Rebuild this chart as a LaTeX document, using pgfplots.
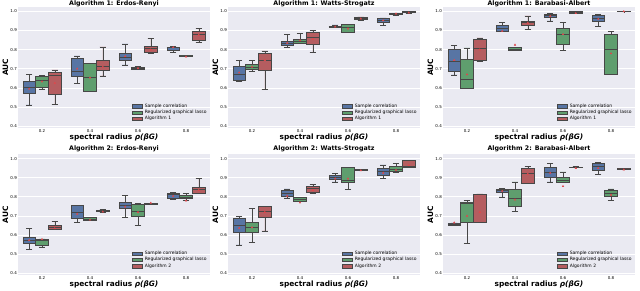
\documentclass[border=0pt]{standalone}
\usepackage{fontspec}
\setmainfont{DejaVu Sans}
\usepackage{pgfplots}
\pgfplotsset{compat=1.18}
\usepgfplotslibrary{statistics}
\definecolor{bgc}{HTML}{EAEAF2}
\definecolor{cb}{HTML}{5875A4}
\definecolor{cg}{HTML}{5F9E6E}
\definecolor{cr}{HTML}{B55D60}
\definecolor{edge}{HTML}{474747}
\definecolor{meanc}{HTML}{E0474C}
% color, position, lower whisker, lower quartile, median, upper quartile, upper whisker, mean
\newcommand{\bx}[8]{%
  \addplot[forget plot, fill=#1, draw=edge, line width=0.6pt,
    boxplot prepared={draw position=#2, lower whisker=#3, lower quartile=#4,
      median=#5, upper quartile=#6, upper whisker=#7,
      box extend=0.26, whisker extend=0.13}] coordinates {};
  \addplot[forget plot, only marks, mark=triangle*, mark size=0.9pt, color=meanc] coordinates {(#2,#8)};%
}
\pgfplotsset{panel/.style={
  scale only axis, width=192pt, height=121pt,
  xmin=-0.5, xmax=3.5, ymin=0.39, ymax=1.023,
  xtick={0,1,2,3}, xticklabels={0.2,0.4,0.6,0.8},
  ytick={0.4,0.5,0.6,0.7,0.8,0.9,1.0},
  yticklabel style={/pgf/number format/.cd,fixed,fixed zerofill,precision=1,assume math mode=true},
  axis background/.style={fill=bgc},
  axis line style={draw=none},
  major tick length=0pt,
  ymajorgrids, grid style={white, line width=0.7pt},
  tick label style={font=\fontsize{4}{5}\selectfont, inner sep=1pt},
  xlabel={\textbf{spectral radius \textit{ρ(βG)}}},
  ylabel={\textbf{AUC}},
  label style={font=\fontsize{7.4}{8}\selectfont},
  xlabel style={inner sep=0.5pt},
  ylabel style={inner sep=1pt},
  every axis title/.style={font=\bfseries\fontsize{6.3}{7}\selectfont, at={(0.5,1)}, anchor=base, yshift=2.5pt},
  boxplot/draw direction=y,
  boxplot/every median/.style={draw=edge, line width=0.6pt},
  boxplot/every whisker/.style={draw=edge, line width=0.6pt},
  legend style={at={(0.985,0.05)}, anchor=south east, draw=none, fill=none,
    font=\fontsize{4.5}{5}\selectfont, row sep=0.6pt, inner sep=0pt,
    nodes={inner sep=0.4pt}, cells={anchor=west}},
  legend image code/.code={\draw[##1] (0pt,-1.7pt) rectangle (10pt,1.7pt); \path (11.8pt,0pt);},
}}
\newcommand{\leg}[1]{%
  \addlegendimage{fill=cb, draw=edge, line width=0.4pt}
  \addlegendimage{fill=cg, draw=edge, line width=0.4pt}
  \addlegendimage{fill=cr, draw=edge, line width=0.4pt}
  \legend{Sample correlation, Regularized graphical lasso, #1}%
}
\begin{document}
\begin{tikzpicture}
\path[use as bounding box] (0,0) rectangle (640pt,290pt);
% ---------- Top row ----------
\begin{axis}[panel, at={(18pt,162pt)}, anchor=south west, title={Algorithm 1: Erdos-Renyi}, title style={yshift=-0.8pt}]
\leg{Algorithm 1}
\bx{cb}{-0.267}{0.511}{0.569}{0.602}{0.635}{0.671}{0.595}
\bx{cg}{0}{0.595}{0.602}{0.638}{0.663}{0.665}{0.633}
\bx{cr}{0.267}{0.513}{0.567}{0.664}{0.680}{0.694}{0.625}
\bx{cb}{0.733}{0.623}{0.661}{0.687}{0.753}{0.767}{0.700}
\bx{cg}{1}{0.583}{0.583}{0.654}{0.730}{0.730}{0.653}
\bx{cr}{1.267}{0.663}{0.692}{0.713}{0.744}{0.814}{0.710}
\bx{cb}{1.733}{0.720}{0.744}{0.762}{0.783}{0.830}{0.765}
\bx{cg}{2}{0.696}{0.698}{0.703}{0.709}{0.711}{0.703}
\bx{cr}{2.267}{0.783}{0.786}{0.805}{0.819}{0.857}{0.800}
\bx{cb}{2.733}{0.784}{0.797}{0.812}{0.814}{0.817}{0.812}
\bx{cg}{3}{0.765}{0.766}{0.767}{0.768}{0.769}{0.763}
\bx{cr}{3.267}{0.837}{0.847}{0.882}{0.894}{0.913}{0.877}
\end{axis}
\begin{axis}[panel, at={(228pt,162pt)}, anchor=south west, title={Algorithm 1: Watts-Strogatz}, title style={yshift=-0.8pt}]
\leg{Algorithm 1}
\bx{cb}{-0.267}{0.635}{0.638}{0.671}{0.715}{0.744}{0.680}
\bx{cg}{0}{0.685}{0.696}{0.708}{0.722}{0.742}{0.710}
\bx{cr}{0.267}{0.593}{0.694}{0.744}{0.779}{0.793}{0.745}
\bx{cb}{0.733}{0.810}{0.823}{0.835}{0.845}{0.878}{0.835}
\bx{cg}{1}{0.831}{0.831}{0.842}{0.854}{0.883}{0.848}
\bx{cr}{1.267}{0.784}{0.830}{0.863}{0.889}{0.900}{0.855}
\bx{cb}{1.733}{0.915}{0.918}{0.921}{0.923}{0.929}{0.920}
\bx{cg}{2}{0.892}{0.892}{0.918}{0.930}{0.932}{0.910}
\bx{cr}{2.267}{0.955}{0.957}{0.963}{0.969}{0.971}{0.962}
\bx{cb}{2.733}{0.927}{0.944}{0.955}{0.963}{0.966}{0.953}
\bx{cg}{3}{0.977}{0.986}{0.988}{0.989}{0.990}{0.988}
\bx{cr}{3.267}{0.990}{0.993}{0.996}{0.998}{0.999}{0.993}
\end{axis}
\begin{axis}[panel, at={(443pt,162pt)}, anchor=south west, title={Algorithm 1: Barabasi-Albert}, title style={yshift=-0.8pt}]
\leg{Algorithm 1}
\bx{cb}{-0.267}{0.668}{0.685}{0.741}{0.802}{0.821}{0.745}
\bx{cg}{0}{0.597}{0.597}{0.647}{0.751}{0.809}{0.670}
\bx{cr}{0.267}{0.741}{0.746}{0.809}{0.852}{0.861}{0.800}
\bx{cb}{0.733}{0.897}{0.897}{0.912}{0.927}{0.941}{0.897}
\bx{cg}{1}{0.797}{0.797}{0.803}{0.810}{0.810}{0.825}
\bx{cr}{1.267}{0.904}{0.927}{0.942}{0.950}{0.976}{0.940}
\bx{cb}{1.733}{0.950}{0.969}{0.979}{0.986}{0.991}{0.975}
\bx{cg}{2}{0.795}{0.828}{0.880}{0.911}{0.941}{0.880}
\bx{cr}{2.267}{0.988}{0.990}{0.994}{0.998}{1.000}{0.990}
\bx{cb}{2.733}{0.920}{0.946}{0.966}{0.977}{0.986}{0.960}
\bx{cg}{3}{0.671}{0.671}{0.803}{0.878}{0.896}{0.780}
\bx{cr}{3.267}{0.998}{0.999}{1.000}{1.000}{1.000}{1.000}
\end{axis}
% ---------- Bottom row ----------
\begin{axis}[panel, at={(18pt,14.8pt)}, anchor=south west, title={Algorithm 2: Erdos-Renyi}, title style={yshift=1.2pt}]
\leg{Algorithm 2}
\bx{cb}{-0.267}{0.526}{0.556}{0.575}{0.589}{0.636}{0.573}
\bx{cg}{0}{0.538}{0.547}{0.570}{0.580}{0.580}{0.578}
\bx{cr}{0.267}{0.629}{0.629}{0.640}{0.649}{0.670}{0.635}
\bx{cb}{0.733}{0.668}{0.687}{0.718}{0.757}{0.757}{0.710}
\bx{cg}{1}{0.677}{0.677}{0.685}{0.694}{0.694}{0.680}
\bx{cr}{1.267}{0.720}{0.724}{0.728}{0.732}{0.736}{0.722}
\bx{cb}{1.733}{0.694}{0.740}{0.758}{0.773}{0.806}{0.748}
\bx{cg}{2}{0.652}{0.698}{0.726}{0.762}{0.767}{0.720}
\bx{cr}{2.267}{0.762}{0.763}{0.764}{0.765}{0.766}{0.768}
\bx{cb}{2.733}{0.785}{0.794}{0.811}{0.820}{0.825}{0.804}
\bx{cg}{3}{0.781}{0.790}{0.798}{0.808}{0.820}{0.780}
\bx{cr}{3.267}{0.820}{0.820}{0.837}{0.851}{0.895}{0.835}
\end{axis}
\begin{axis}[panel, at={(228pt,14.8pt)}, anchor=south west, title={Algorithm 2: Watts-Strogatz}, title style={yshift=1.2pt}]
\leg{Algorithm 2}
\bx{cb}{-0.267}{0.549}{0.617}{0.652}{0.690}{0.698}{0.637}
\bx{cg}{0}{0.563}{0.615}{0.642}{0.666}{0.738}{0.640}
\bx{cr}{0.267}{0.622}{0.694}{0.724}{0.750}{0.752}{0.720}
\bx{cb}{0.733}{0.794}{0.804}{0.820}{0.834}{0.841}{0.805}
\bx{cg}{1}{0.778}{0.778}{0.786}{0.795}{0.798}{0.770}
\bx{cr}{1.267}{0.820}{0.823}{0.843}{0.855}{0.867}{0.835}
\bx{cb}{1.733}{0.878}{0.892}{0.902}{0.911}{0.921}{0.895}
\bx{cg}{2}{0.837}{0.878}{0.885}{0.953}{0.956}{0.895}
\bx{cr}{2.267}{0.940}{0.941}{0.942}{0.943}{0.944}{0.938}
\bx{cb}{2.733}{0.895}{0.914}{0.931}{0.948}{0.967}{0.925}
\bx{cg}{3}{0.930}{0.935}{0.946}{0.958}{0.976}{0.940}
\bx{cr}{3.267}{0.956}{0.956}{0.960}{0.990}{0.990}{0.965}
\end{axis}
\begin{axis}[panel, at={(443pt,14.8pt)}, anchor=south west, title={Algorithm 2: Barabasi-Albert}, title style={yshift=1.2pt}]
\leg{Algorithm 2}
\bx{cb}{-0.267}{0.652}{0.652}{0.658}{0.664}{0.664}{0.665}
\bx{cg}{0}{0.556}{0.668}{0.768}{0.771}{0.783}{0.700}
\bx{cr}{0.267}{0.668}{0.668}{0.668}{0.815}{0.815}{0.720}
\bx{cb}{0.733}{0.800}{0.823}{0.832}{0.841}{0.845}{0.830}
\bx{cg}{1}{0.722}{0.753}{0.790}{0.841}{0.878}{0.785}
\bx{cr}{1.267}{0.872}{0.872}{0.925}{0.948}{0.960}{0.920}
\bx{cb}{1.733}{0.878}{0.900}{0.930}{0.953}{0.974}{0.925}
\bx{cg}{2}{0.876}{0.876}{0.885}{0.900}{0.930}{0.855}
\bx{cr}{2.267}{0.954}{0.955}{0.956}{0.957}{0.958}{0.950}
\bx{cb}{2.733}{0.916}{0.937}{0.960}{0.977}{0.981}{0.950}
\bx{cg}{3}{0.783}{0.804}{0.820}{0.834}{0.841}{0.810}
\bx{cr}{3.267}{0.944}{0.945}{0.946}{0.947}{0.948}{0.942}
\end{axis}
\end{tikzpicture}
\end{document}
